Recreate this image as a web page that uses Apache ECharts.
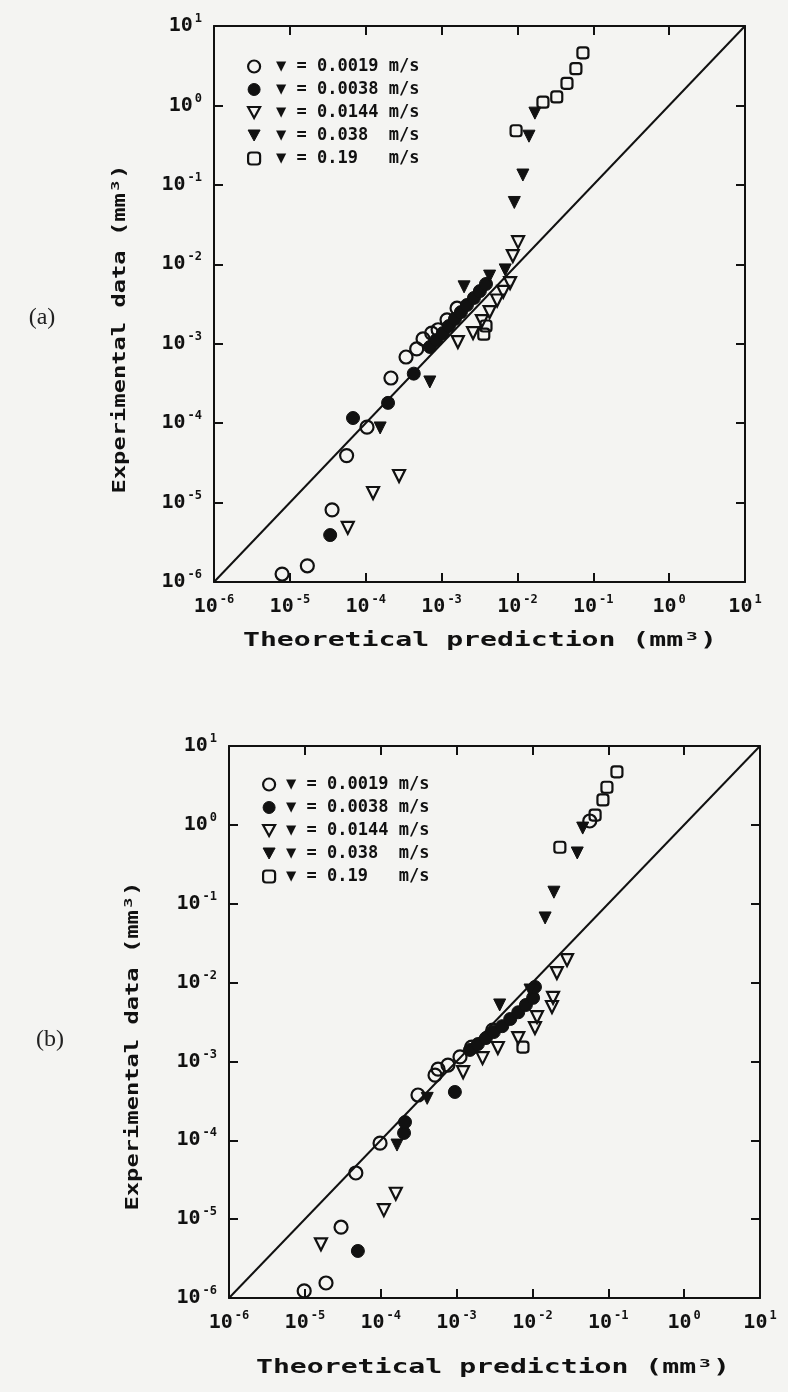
<!DOCTYPE html>
<html>
<head>
<meta charset="utf-8">
<title>Experimental data vs theoretical prediction</title>
<script src="https://cdn.jsdelivr.net/npm/echarts@6/dist/echarts.min.js"></script>
<style>
  html, body { margin: 0; padding: 0; background: #f4f4f2; }
  #chart { width: 788px; height: 1392px; }
</style>
</head>
<body>
<div id="chart"></div>
<script>
// legend names (sliding speed)
var speedNames = ['▼ = 0.0019 m/s', '▼ = 0.0038 m/s', '▼ = 0.0144 m/s', '▼ = 0.038  m/s', '▼ = 0.19   m/s']
var tickExponents = [-6, -5, -4, -3, -2, -1, 0, 1]

// panel (a): [theoretical, experimental] in mm^3
var a_v0019 = [[7.9e-6, 1.26e-6], [1.7e-5, 1.6e-6], [3.6e-5, 8.1e-6], [5.6e-5, 3.9e-5], [1.04e-4, 8.9e-5],
  [2.15e-4, 3.7e-4], [3.4e-4, 6.8e-4], [4.7e-4, 8.6e-4], [5.7e-4, 1.15e-3], [7.4e-4, 1.36e-3],
  [9.0e-4, 1.5e-3], [1.18e-3, 2.0e-3], [1.6e-3, 2.8e-3]]
var a_v0038 = [[3.4e-5, 3.9e-6], [6.8e-5, 1.16e-4], [1.97e-4, 1.8e-4], [4.3e-4, 4.2e-4], [7.03e-4, 9.1e-4],
  [8.5e-4, 1.11e-3], [1.04e-3, 1.36e-3], [1.25e-3, 1.67e-3], [1.5e-3, 2.05e-3], [1.8e-3, 2.5e-3],
  [2.16e-3, 3.07e-3], [2.67e-3, 3.77e-3], [3.2e-3, 4.6e-3], [3.85e-3, 5.65e-3]]
var a_v0144 = [[5.8e-5, 4.8e-6], [1.25e-4, 1.32e-5], [2.75e-4, 2.16e-5], [1.64e-3, 1.05e-3], [2.6e-3, 1.36e-3],
  [3.4e-3, 1.93e-3], [4.3e-3, 2.5e-3], [5.4e-3, 3.5e-3], [6.5e-3, 4.5e-3], [8.0e-3, 5.8e-3],
  [8.7e-3, 1.27e-2], [1.02e-2, 1.9e-2]]
var a_v038 = [[1.55e-4, 8.7e-5], [7.0e-4, 3.3e-4], [1.98e-3, 5.2e-3], [4.3e-3, 7.1e-3], [6.9e-3, 8.5e-3],
  [9.1e-3, 6.0e-2], [1.18e-2, 0.133], [1.42e-2, 0.41], [1.7e-2, 0.80]]
var a_v019 = [[3.6e-3, 1.32e-3], [3.85e-3, 1.67e-3], [9.6e-3, 0.48], [2.17e-2, 1.1], [3.3e-2, 1.28],
  [4.5e-2, 1.9], [5.9e-2, 2.9], [7.3e-2, 4.6]]

// panel (b)
var b_v0019 = [[9.8e-6, 1.23e-6], [1.9e-5, 1.55e-6], [3.0e-5, 7.9e-6], [4.7e-5, 3.85e-5], [9.8e-5, 9.2e-5],
  [3.1e-4, 3.75e-4], [5.2e-4, 6.7e-4], [5.7e-4, 8.0e-4], [7.7e-4, 9.0e-4], [1.11e-3, 1.14e-3],
  [1.58e-3, 1.52e-3], [3.0e-3, 2.5e-3], [5.7e-2, 1.12]]
var b_v0038 = [[5.0e-5, 3.95e-6], [2.03e-4, 1.24e-4], [2.09e-4, 1.7e-4], [9.5e-4, 4.1e-4], [1.5e-3, 1.4e-3],
  [1.91e-3, 1.66e-3], [2.44e-3, 1.98e-3], [3.1e-3, 2.36e-3], [4.0e-3, 2.8e-3], [5.1e-3, 3.45e-3],
  [6.5e-3, 4.2e-3], [8.2e-3, 5.2e-3], [1.02e-2, 6.4e-3], [1.08e-2, 8.8e-3]]
var b_v0144 = [[1.63e-5, 4.8e-6], [1.1e-4, 1.3e-5], [1.58e-4, 2.1e-5], [1.22e-3, 7.3e-4], [2.2e-3, 1.1e-3],
  [3.5e-3, 1.48e-3], [6.5e-3, 1.98e-3], [1.08e-2, 2.65e-3], [1.15e-2, 3.65e-3], [1.81e-2, 4.9e-3],
  [1.87e-2, 6.4e-3], [2.1e-2, 1.32e-2], [2.86e-2, 1.93e-2]]
var b_v038 = [[1.64e-4, 8.7e-5], [4.1e-4, 3.4e-4], [3.7e-3, 5.2e-3], [9.3e-3, 8.05e-3], [1.47e-2, 6.6e-2],
  [1.92e-2, 0.14], [3.9e-2, 0.44], [4.6e-2, 0.91]]
var b_v019 = [[7.5e-3, 1.52e-3], [2.3e-2, 0.52], [6.7e-2, 1.33], [8.5e-2, 2.07], [9.6e-2, 3.0], [0.13, 4.7]]

// y = x reference line
var diagonal = [[1e-6, 1e-6], [10, 10]]

var ink = '#111'
var triDown = 'path://M0,0 L12,0 L6,11 Z'
var markers = [
  { symbol: 'circle', size: 13, filled: false },
  { symbol: 'circle', size: 13, filled: true },
  { symbol: triDown, size: 12, filled: false },
  { symbol: triDown, size: 12, filled: true },
  { symbol: 'roundRect', size: 11, filled: false }
]

function markerStyle(m) {
  return m.filled
    ? { color: ink, borderColor: ink, borderWidth: 1, opacity: 1 }
    : { color: 'rgba(0,0,0,0)', borderColor: ink, borderWidth: 2.2, opacity: 1 }
}

function logAxis(gridIndex, position, showLabel) {
  return {
    type: 'log',
    logBase: 10,
    gridIndex: gridIndex,
    position: position,
    min: 1e-6,
    max: 10,
    interval: 1,
    axisLine: { onZero: false, lineStyle: { color: ink, width: 2 } },
    axisTick: { inside: true, length: 9, lineStyle: { color: ink, width: 2 } },
    minorTick: { show: false },
    splitLine: { show: false },
    axisLabel: showLabel ? {
      margin: 12,
      formatter: function (v) {
        var e = Math.round(Math.log10(v))
        if (tickExponents.indexOf(e) < 0) return ''
        return '{b|10}{e|' + e + '}'
      },
      rich: {
        b: { fontFamily: 'DejaVu Sans Mono', fontWeight: 'bold', fontSize: 20, color: ink },
        e: { fontFamily: 'DejaVu Sans Mono', fontWeight: 'bold', fontSize: 12, color: ink, padding: [0, 0, 14, 2] }
      }
    } : { show: false }
  }
}

function panelSeries(axisIdx, sets) {
  var out = [{
    type: 'line',
    xAxisIndex: axisIdx,
    yAxisIndex: axisIdx,
    data: diagonal,
    symbol: 'none',
    silent: true,
    lineStyle: { color: ink, width: 2 }
  }]
  sets.forEach(function (d, i) {
    out.push({
      name: speedNames[i],
      type: 'scatter',
      xAxisIndex: axisIdx,
      yAxisIndex: axisIdx,
      symbol: markers[i].symbol,
      symbolSize: markers[i].size,
      itemStyle: markerStyle(markers[i]),
      data: d
    })
  })
  return out
}

function legendFor(left, top, pad) {
  return {
    orient: 'vertical',
    left: left,
    top: top,
    itemWidth: 12,
    itemHeight: 12,
    itemGap: 6,
    selectedMode: false,
    textStyle: {
      fontFamily: 'DejaVu Sans Mono', fontWeight: 'bold', fontSize: 17,
      lineHeight: 17, color: ink, padding: [0, 0, 0, pad]
    },
    data: speedNames.map(function (n, i) {
      return { name: n, icon: markers[i].symbol, itemStyle: markerStyle(markers[i]) }
    })
  }
}

function titleText(str, x, y, size, sx, rot) {
  return {
    type: 'text', x: x, y: y, scaleX: sx, rotation: rot || 0,
    style: {
      text: str, font: 'bold ' + size + 'px "DejaVu Sans Mono"', fill: ink,
      align: 'center', verticalAlign: 'middle'
    }
  }
}

var chart = echarts.init(document.getElementById('chart'))
chart.setOption({
  backgroundColor: '#f4f4f2',
  animation: false,
  grid: [
    { left: 214, top: 26, width: 531, height: 556 },
    { left: 229, top: 746, width: 531, height: 552 }
  ],
  xAxis: [logAxis(0, 'bottom', true), logAxis(0, 'top', false), logAxis(1, 'bottom', true), logAxis(1, 'top', false)],
  yAxis: [logAxis(0, 'left', true), logAxis(0, 'right', false), logAxis(1, 'left', true), logAxis(1, 'right', false)],
  legend: [legendFor(242, 53, 11), legendFor(257, 771, 6)],
  graphic: [
    titleText('Theoretical prediction (mm³)', 480, 641, 19, 1.48),
    titleText('Theoretical prediction (mm³)', 493, 1368, 19, 1.48),
    titleText('Experimental data (mm³)', 120, 329, 18, 1.32, Math.PI / 2),
    titleText('Experimental data (mm³)', 133, 1046, 18, 1.32, Math.PI / 2),
    { type: 'text', x: 42, y: 318, style: { text: '(a)', font: '24px "Liberation Serif"', fill: '#222', align: 'center', verticalAlign: 'middle' } },
    { type: 'text', x: 50, y: 1040, style: { text: '(b)', font: '24px "Liberation Serif"', fill: '#222', align: 'center', verticalAlign: 'middle' } }
  ],
  series: panelSeries(0, [a_v0019, a_v0038, a_v0144, a_v038, a_v019])
    .concat(panelSeries(2, [b_v0019, b_v0038, b_v0144, b_v038, b_v019]))
})
</script>
</body>
</html>
